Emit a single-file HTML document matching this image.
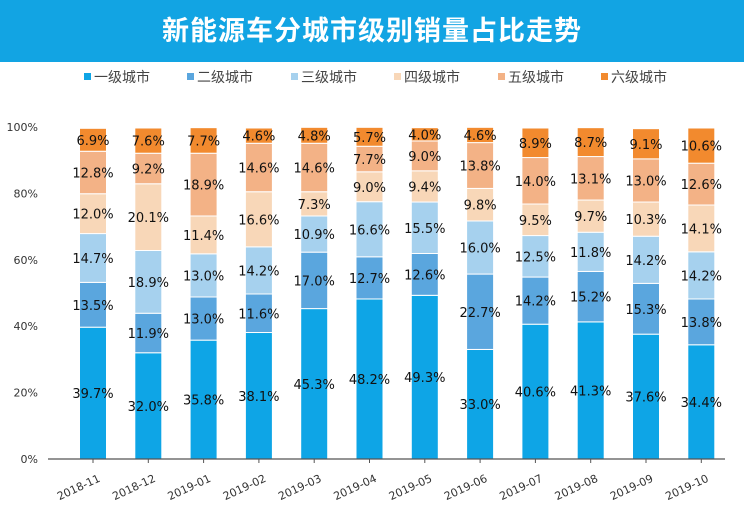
<!DOCTYPE html>
<html><head><meta charset="utf-8"><style>
body{margin:0;width:744px;height:528px;background:#fff;overflow:hidden;font-family:"DejaVu Sans","Liberation Sans","Noto Sans CJK SC",sans-serif}
#title{position:absolute;left:0;top:0;width:744px;height:62px;background:#12a4e3;color:#fff;font:bold 27px "Liberation Sans","Noto Sans CJK SC",sans-serif;text-align:center;line-height:62px;letter-spacing:1px}
</style></head><body>
<div id="title">新能源车分城市级别销量占比走势</div>
<svg id="chart" width="744" height="528" style="position:absolute;left:0;top:0"></svg>
<script>
const categories=["2018-11","2018-12","2019-01","2019-02","2019-03","2019-04","2019-05","2019-06","2019-07","2019-08","2019-09","2019-10"];
const seriesNames=["一级城市","二级城市","三级城市","四级城市","五级城市","六级城市"];
const tier1=[39.7,32.0,35.8,38.1,45.3,48.2,49.3,33.0,40.6,41.3,37.6,34.4];
const tier2=[13.5,11.9,13.0,11.6,17.0,12.7,12.6,22.7,14.2,15.2,15.3,13.8];
const tier3=[14.7,18.9,13.0,14.2,10.9,16.6,15.5,16.0,12.5,11.8,14.2,14.2];
const tier4=[12.0,20.1,11.4,16.6,7.3,9.0,9.4,9.8,9.5,9.7,10.3,14.1];
const tier5=[12.8,9.2,18.9,14.6,14.6,7.7,9.0,13.8,14.0,13.1,13.0,12.6];
const tier6=[6.9,7.6,7.7,4.6,4.8,5.7,4.0,4.6,8.9,8.7,9.1,10.6];
const yTicks=[0,20,40,60,80,100];
const series=[tier1,tier2,tier3,tier4,tier5,tier6];
const colors=["#0ea5e6","#5aa6de","#a6d1ee","#f8d7b8","#f3b286","#f28a2e"];
const NS="http://www.w3.org/2000/svg";
const svg=document.getElementById('chart');
const y0=459,y1=127,x0=48,x1=725,first=93,step=55.3,bw=27;
function y(v){return y0-(v/100)*(y0-y1);}
function x(i){return first+i*step;}
function mk(t,a){const e=document.createElementNS(NS,t);for(const k in a)e.setAttribute(k,a[k]);svg.appendChild(e);return e;}
// legend
const lx=[84,187,291,394,498,601];
seriesNames.forEach((n,s)=>{
 const r=mk('rect',{x:lx[s],y:73,width:7,height:7,fill:colors[s]});
 
 
 const t=mk('text',{x:lx[s]+10,y:82,'font-size':14,fill:'#444','font-family':'"Liberation Sans","Noto Sans CJK SC",sans-serif'});
 t.textContent=n;
 
 
});
// y ticks
yTicks.forEach(v=>{
 const t=mk('text',{x:38,y:y(v)+4,'font-size':11,fill:'#333','text-anchor':'end'});
 t.textContent=v+'%';
 
 
});
// bars
categories.forEach((c,i)=>{
 let acc=0;
 series.forEach((arr,s)=>{
  const v=arr[i];
  const top=y(acc+v),bot=y(acc);
  const r=mk('rect',{x:x(i)-bw/2,y:top,width:bw,height:bot-top,fill:colors[s],stroke:'#fff','stroke-width':1});
  
  
  const t=mk('text',{x:x(i),y:(top+bot)/2+5,'font-size':13,fill:'#111','text-anchor':'middle'});
  t.textContent=v.toFixed(1)+'%';
  
  
  acc+=v;
 });
 const tk=mk('line',{x1:x(i),x2:x(i),y1:y0,y2:y0+4,stroke:'#555'});
 
 
 const t=mk('text',{x:x(i)+8,y:y0+22,'font-size':11,fill:'#333','text-anchor':'end',transform:`rotate(-25 ${x(i)+8} ${y0+22})`});
 t.textContent=c;
 
 
});
const ax=mk('line',{x1:x0,x2:x1,y1:y0,y2:y0,stroke:'#555','stroke-width':1.2});


</script>
</body></html>
